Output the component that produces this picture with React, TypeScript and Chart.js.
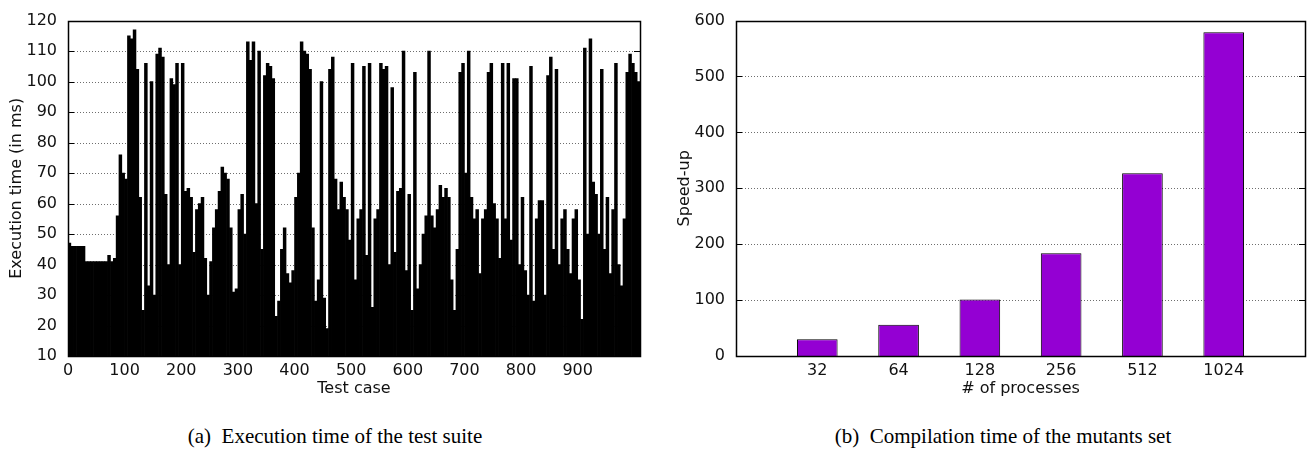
import React, { useEffect, useRef } from 'react';
import { Chart, registerables } from 'chart.js';

Chart.register(...registerables);

// ---- Data: left panel (execution time per test case, read in bins of 5 test cases) ----
const testCaseBinSize = 5;
const executionTimesMs = [
  47, 46, 46, 46, 46, 46, 41, 41, 41, 41,
  41, 41, 41, 41, 43, 41, 42, 56, 76, 70,
  68, 115, 114, 117, 104, 62, 25, 106, 33, 100,
  30, 109, 111, 108, 63, 40, 101, 99, 106, 40,
  106, 64, 65, 62, 44, 58, 60, 62, 42, 30,
  41, 52, 58, 64, 72, 70, 68, 52, 31, 32,
  58, 63, 50, 113, 107, 113, 60, 110, 45, 102,
  106, 105, 101, 23, 28, 45, 52, 37, 34, 38,
  62, 70, 113, 110, 109, 104, 52, 28, 35, 100,
  29, 19, 104, 108, 68, 58, 67, 62, 58, 48,
  106, 35, 55, 58, 105, 43, 106, 26, 55, 58,
  106, 104, 105, 40, 98, 44, 64, 65, 110, 38,
  63, 25, 103, 32, 40, 50, 56, 110, 56, 52,
  58, 66, 62, 65, 62, 35, 25, 45, 103, 106,
  70, 110, 62, 55, 58, 37, 55, 58, 103, 106,
  60, 55, 42, 106, 55, 106, 48, 101, 101, 40,
  62, 38, 30, 105, 28, 55, 61, 61, 30, 102,
  108, 45, 104, 40, 55, 58, 45, 37, 55, 58,
  35, 22, 111, 50, 114, 67, 63, 50, 104, 45,
  62, 37, 58, 106, 40, 33, 55, 103, 109, 106,
  103, 100,
];
const testCaseTicks = [0, 100, 200, 300, 400, 500, 600, 700, 800, 900];
const testCaseMax = 1010;
const execYMin = 10;
const execYMax = 120;

// ---- Data: right panel (speed-up per number of processes) ----
const processCounts = ['32', '64', '128', '256', '512', '1024'];
const speedUps = [30, 56, 101, 184, 327, 579];
const speedYMax = 600;

const TICK_FONT = { family: '"DejaVu Sans", Verdana, sans-serif', size: 16 };
const TEXT_COLOR = '#111111';

const gnuplotFrame = {
  id: 'gnuplotFrame',
  beforeDatasetsDraw(chart: any) {
    const { ctx, chartArea: a, scales } = chart;
    const y = scales.y;
    ctx.save();
    ctx.strokeStyle = '#6e6e6e';
    ctx.lineWidth = 1;
    ctx.setLineDash([1, 2]);
    y.ticks.forEach((t: any) => {
      if (t.value <= y.min || t.value >= y.max) return;
      const py = Math.round(y.getPixelForValue(t.value)) + 0.5;
      ctx.beginPath();
      ctx.moveTo(a.left, py);
      ctx.lineTo(a.right, py);
      ctx.stroke();
    });
    ctx.restore();
  },
  afterDatasetsDraw(chart: any) {
    const { ctx, chartArea: a, scales } = chart;
    const y = scales.y;
    ctx.save();
    ctx.strokeStyle = '#000';
    ctx.lineWidth = 1;
    ctx.setLineDash([]);
    y.ticks.forEach((t: any) => {
      const py = Math.round(y.getPixelForValue(t.value)) + 0.5;
      ctx.beginPath();
      ctx.moveTo(a.left, py);
      ctx.lineTo(a.left + 6, py);
      ctx.moveTo(a.right, py);
      ctx.lineTo(a.right - 6, py);
      ctx.stroke();
    });
    ctx.lineWidth = 1.5;
    ctx.strokeRect(Math.round(a.left) + 0.5, Math.round(a.top) + 0.5, Math.round(a.right - a.left), Math.round(a.bottom - a.top));
    ctx.restore();
  },
};

function ExecutionChart() {
  const ref = useRef<HTMLCanvasElement>(null);
  useEffect(() => {
    const points = executionTimesMs.map((v, i) => ({ x: i * testCaseBinSize + testCaseBinSize / 2, y: v }));
    const chart = new Chart(ref.current!, {
      type: 'bar',
      data: {
        datasets: [
          {
            data: points as any,
            backgroundColor: '#000000',
            borderWidth: 0,
            barPercentage: 1,
            categoryPercentage: 1,
            base: execYMin,
          } as any,
        ],
      },
      options: {
        animation: false,
        responsive: false,
        events: [],
        layout: { padding: { top: 14, right: 16, left: 7, bottom: 0 } },
        plugins: { legend: { display: false }, tooltip: { enabled: false } },
        scales: {
          x: {
            type: 'linear',
            min: 0,
            max: testCaseMax,
            offset: false,
            grid: { display: false, drawTicks: false, offset: false },
            border: { display: false },
            afterBuildTicks: (s: any) => {
              s.ticks = testCaseTicks.map((v) => ({ value: v }));
            },
            afterFit: (s: any) => {
              s.height = 42;
            },
            ticks: { font: TICK_FONT, color: TEXT_COLOR, padding: 5, maxRotation: 0, autoSkip: false },
            title: { display: true, text: 'Test case', font: TICK_FONT, color: TEXT_COLOR, padding: 0 },
          },
          y: {
            min: execYMin,
            max: execYMax,
            grid: { display: false, drawTicks: false },
            border: { display: false },
            ticks: { stepSize: 10, font: TICK_FONT, color: TEXT_COLOR, padding: 11 },
            afterFit: (s: any) => {
              s.width = 61;
            },
            title: { display: true, text: 'Execution time (in ms)', font: TICK_FONT, color: TEXT_COLOR, padding: 0 },
          },
        },
      },
      plugins: [gnuplotFrame],
    });
    return () => chart.destroy();
  }, []);
  return <canvas ref={ref} width={656} height={398} style={{ position: 'absolute', left: 0, top: 0 }} />;
}

function SpeedupChart() {
  const ref = useRef<HTMLCanvasElement>(null);
  useEffect(() => {
    const labels = ['', ...processCounts, ''];
    const values = [null, ...speedUps, null];
    const chart = new Chart(ref.current!, {
      type: 'bar',
      data: {
        labels,
        datasets: [
          {
            data: values as any,
            backgroundColor: '#9400d3',
            borderColor: '#000000',
            borderWidth: 1,
            barPercentage: 0.5,
            categoryPercentage: 1,
          },
        ],
      },
      options: {
        animation: false,
        responsive: false,
        events: [],
        layout: { padding: { top: 14, right: 3, left: 15, bottom: 0 } },
        plugins: { legend: { display: false }, tooltip: { enabled: false } },
        scales: {
          x: {
            offset: false,
            grid: { display: false, drawTicks: false, offset: false },
            border: { display: false },
            afterFit: (s: any) => {
              s.height = 42;
            },
            ticks: { font: TICK_FONT, color: TEXT_COLOR, padding: 5, maxRotation: 0, autoSkip: false },
            title: { display: true, text: '# of processes', font: TICK_FONT, color: TEXT_COLOR, padding: 0 },
          },
          y: {
            min: 0,
            max: speedYMax,
            grid: { display: false, drawTicks: false },
            border: { display: false },
            ticks: { stepSize: 100, font: TICK_FONT, color: TEXT_COLOR, padding: 11 },
            afterFit: (s: any) => {
              s.width = 61;
            },
            title: { display: true, text: 'Speed-up', font: TICK_FONT, color: TEXT_COLOR, padding: 0 },
          },
        },
      },
      plugins: [gnuplotFrame],
    });
    return () => chart.destroy();
  }, []);
  return <canvas ref={ref} width={650} height={398} style={{ position: 'absolute', left: 660, top: 0 }} />;
}

const captionStyle: React.CSSProperties = {
  position: 'absolute',
  top: 423,
  fontFamily: '"Liberation Serif", "DejaVu Serif", serif',
  fontSize: 21,
  lineHeight: '26px',
  textAlign: 'center',
  color: '#000',
  whiteSpace: 'nowrap',
};

export default function App() {
  return (
    <div style={{ position: 'fixed', left: 0, top: 0, width: 1310, height: 461, background: '#fff', overflow: 'hidden' }}>
      <ExecutionChart />
      <SpeedupChart />
      <div style={{ ...captionStyle, left: 0, width: 670 }}>(a)&nbsp; Execution time of the test suite</div>
      <div style={{ ...captionStyle, left: 700, width: 606 }}>(b)&nbsp; Compilation time of the mutants set</div>
    </div>
  );
}
